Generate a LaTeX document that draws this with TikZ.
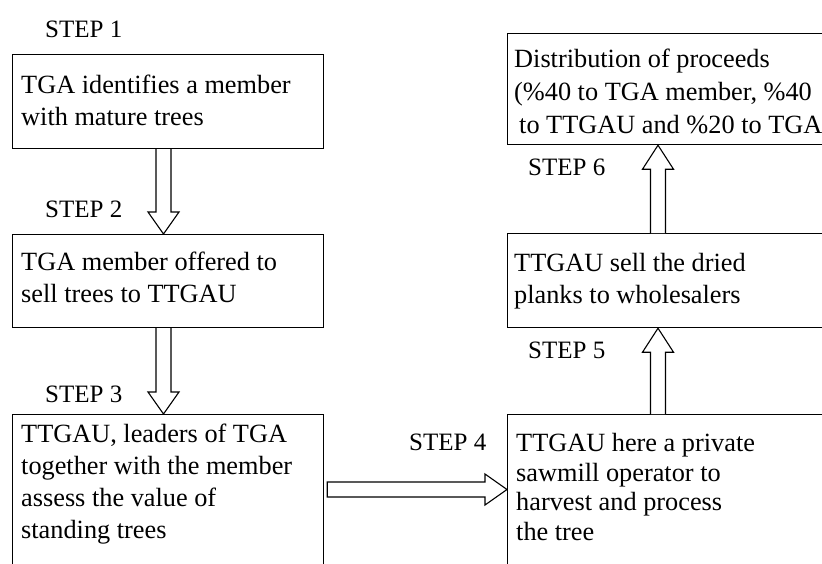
\documentclass[tikz,border=0pt]{standalone}
\usepackage{fontspec}
\setmainfont{Liberation Serif}
\usetikzlibrary{calc}
\tikzset{
  box/.style={draw, line width=1.2pt, rectangle, anchor=north west, inner sep=0pt},
  txt/.style={anchor=base west, inner sep=0pt, align=left, font=\fontsize{26.3}{31.7}\selectfont},
  lbl/.style={anchor=base west, inner sep=0pt, font=\fontsize{25}{30}\selectfont},
  barrow/.style={draw, line width=1.1pt, fill=white, line join=miter}
}
\begin{document}
\begin{tikzpicture}[x=1pt,y=-1pt]
\useasboundingbox (0,0) rectangle (822,563);
\clip (0,0) rectangle (822,563);
% boxes
\node[box, minimum width=311pt, minimum height=94pt] (b1) at (12,54) {};
\node[box, minimum width=311pt, minimum height=93pt] (b2) at (12,234) {};
\node[box, minimum width=311pt, minimum height=200pt] (b3) at (12,414) {};
\node[box, minimum width=350pt, minimum height=111pt] (b6) at (507,33) {};
\node[box, minimum width=350pt, minimum height=94pt] (b5) at (507,233) {};
\node[box, minimum width=350pt, minimum height=200pt] (b4) at (507,414) {};
% texts (anchored at the baseline of their last line)
\node[txt] (t1) at (21,125) {TGA identifies a member\\with mature trees};
\node[txt] (t2) at (21,302) {TGA member offered to\\sell trees to TTGAU};
\node[txt] (t3) at (21,538) {TTGAU, leaders of TGA\\together with the member\\assess the value of\\standing trees};
\node[txt, font=\fontsize{26.3}{33}\selectfont] (t6) at (514,133) {Distribution of proceeds\\(\%40 to TGA member, \%40\\\hspace{5pt}to TTGAU and \%20 to TGA};
\node[txt] (t5) at (514,303) {TTGAU sell the dried\\planks to wholesalers};
\node[txt, font=\fontsize{26.3}{29.5}\selectfont] (t4) at (516,540) {TTGAU here a private\\sawmill operator to\\harvest and process\\the tree};
% labels
\node[lbl] (s1) at (45,37) {STEP 1};
\node[lbl] (s2) at (45,217) {STEP 2};
\node[lbl] (s3) at (45,402) {STEP 3};
\node[lbl] (s4) at (409,450) {STEP 4};
\node[lbl] (s5) at (528,358) {STEP 5};
\node[lbl] (s6) at (528,175) {STEP 6};
% arrow end points
\path (b1.south west) ++(151.5,0) coordinate (a1s);
\coordinate (a1e) at (a1s |- b2.north);
\path (b2.south west) ++(151.5,0) coordinate (a2s);
\coordinate (a2e) at (a2s |- b3.north);
\path (b3.north east) ++(3,75.5) coordinate (a3s);
\coordinate (a3e) at (a3s -| b4.west);
\path (b4.north west) ++(151,0) coordinate (a4s);
\coordinate (a4e) at (a4s |- b5.south);
\path (b5.north west) ++(151,0) coordinate (a5s);
\coordinate (a5e) at (a5s |- b6.south);
% down arrows
\foreach \s/\e in {a1s/a1e, a2s/a2e}{
  \draw[barrow] let \p1=(\s), \p2=(\e) in
    (\x1-7.5pt,\y1) -- (\x1-7.5pt,\y2+22pt) -- (\x1-15.5pt,\y2+22pt) -- (\x1,\y2)
    -- (\x1+15.5pt,\y2+22pt) -- (\x1+7.5pt,\y2+22pt) -- (\x1+7.5pt,\y1);
}
% up arrows
\foreach \s/\e in {a4s/a4e, a5s/a5e}{
  \draw[barrow] let \p1=(\s), \p2=(\e) in
    (\x1-7.5pt,\y1) -- (\x1-7.5pt,\y2-24pt) -- (\x1-15.5pt,\y2-24pt) -- (\x1,\y2)
    -- (\x1+15.5pt,\y2-24pt) -- (\x1+7.5pt,\y2-24pt) -- (\x1+7.5pt,\y1);
}
% right arrow
\draw[barrow] let \p1=(a3s), \p2=(a3e) in
  (\x1,\y1+7.5pt) -- (\x2-22pt,\y1+7.5pt) -- (\x2-22pt,\y1+15.5pt) -- (\x2,\y1)
  -- (\x2-22pt,\y1-15.5pt) -- (\x2-22pt,\y1-7.5pt) -- (\x1,\y1-7.5pt) -- cycle;
\end{tikzpicture}
\end{document}
